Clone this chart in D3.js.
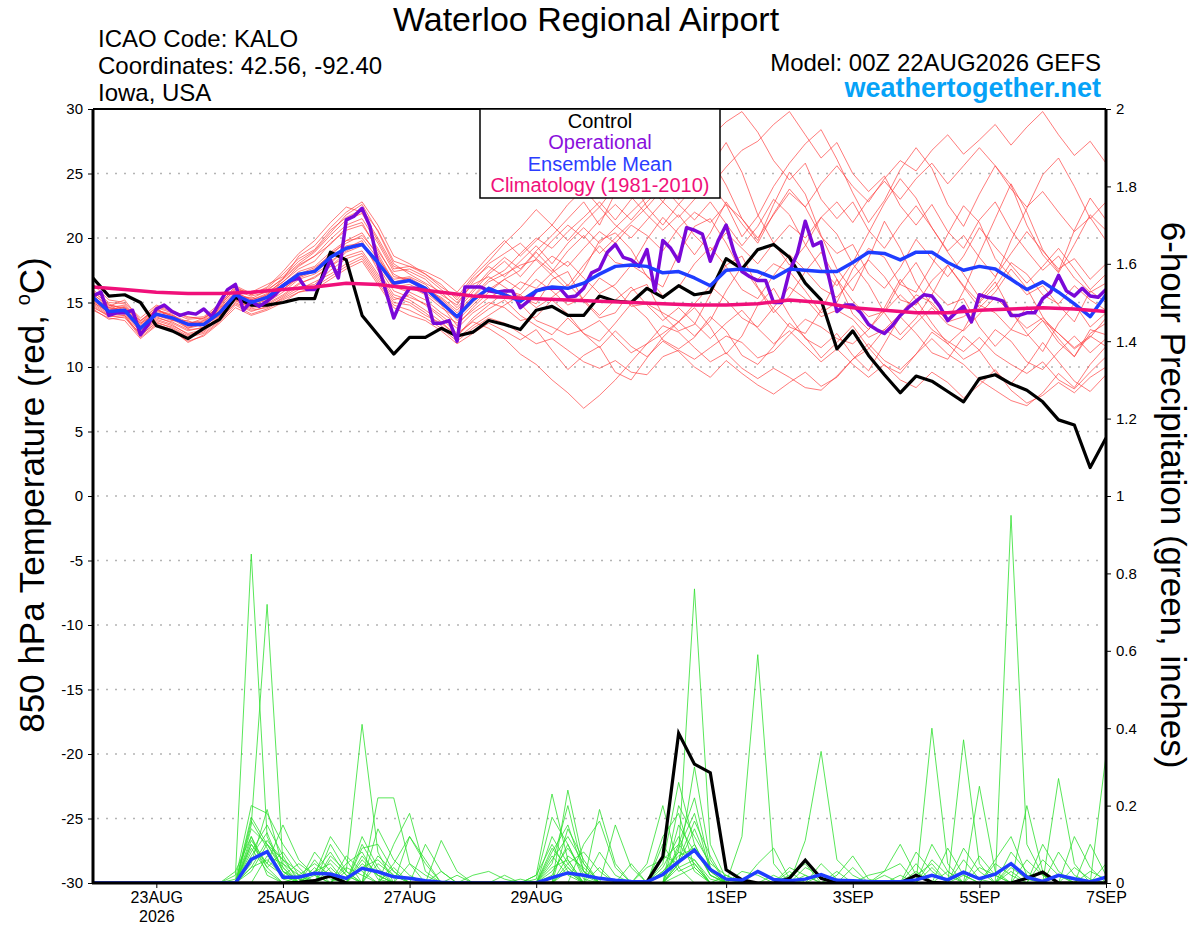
<!DOCTYPE html>
<html lang="en">
<head>
<meta charset="UTF-8">
<title>Waterloo Regional Airport - GEFS</title>
<script src="https://cdnjs.cloudflare.com/ajax/libs/d3/7.8.5/d3.min.js"></script>
<style>
body{margin:0;background:#fff;}
svg{font-family:"Liberation Sans", Arial, Helvetica, sans-serif;}
.tick text{font-size:15px;fill:#000;}
</style>
</head>
<body>
<svg id="chart" width="1200" height="927"></svg>
<script>
// run start, 6-hourly steps out to 384h
var runStart = Date.UTC(2026, 7, 22, 0);
var HOUR = 3600 * 1000;

var tempTicks = [-30, -25, -20, -15, -10, -5, 0, 5, 10, 15, 20, 25, 30];
var precipTicks = [0, 0.2, 0.4, 0.6, 0.8, 1, 1.2, 1.4, 1.6, 1.8, 2];
var dateTicks = ["2026-08-23", "2026-08-25", "2026-08-27", "2026-08-29", "2026-09-01", "2026-09-03", "2026-09-05", "2026-09-07"];
var dateLabels = ["23AUG", "25AUG", "27AUG", "29AUG", "1SEP", "3SEP", "5SEP", "7SEP"];

// 850 hPa temperature, control run (6-hourly)
var controlTemp = [16.9,15.5,15.6,15.0,13.2,12.8,12.2,13.0,13.7,15.4,
  14.8,14.8,15.0,15.3,15.3,18.9,18.3,14.0,12.5,11.0,
  12.3,12.3,13.0,12.4,12.7,13.6,13.3,12.9,14.4,14.7,
  14.0,14.0,15.5,15.1,15.0,16.1,15.4,16.3,15.6,15.8,
  18.4,17.6,19.1,19.5,18.5,16.5,15.2,11.4,12.8,10.9,
  9.4,8.0,9.3,8.9,8.1,7.3,9.1,9.4,8.7,8.2,
  7.3,5.9,5.5,2.2,4.5];

// operational run (3-hourly)
var operTemp = [15.5,15.8,14.0,14.2,14.2,14.4,12.5,13.3,
  14.5,14.8,14.3,14.0,14.2,14.1,14.5,13.9,
  15.0,16.0,16.4,14.4,15.1,14.7,15.1,15.6,
  16.3,16.7,16.9,16.0,16.0,16.9,18.3,16.9,
  21.4,21.7,22.3,20.9,18.0,15.9,13.8,15.2,
  16.1,16.1,15.8,13.4,13.4,13.6,12.0,16.2,
  16.2,16.2,15.9,15.8,15.9,15.9,14.6,15.1,
  15.9,16.1,16.1,16.1,15.4,15.5,16.1,17.3,
  17.6,18.9,19.5,18.5,18.3,17.8,19.1,15.9,
  19.8,19.2,18.2,20.8,20.6,20.3,18.2,19.8,
  21.0,18.9,17.4,17.0,16.7,16.7,15.0,15.0,
  17.4,18.8,21.3,19.4,19.7,16.9,14.3,14.8,
  14.8,14.2,13.3,12.9,12.6,13.2,14.0,14.6,
  15.1,15.6,15.5,14.7,13.6,14.2,14.7,13.5,
  15.6,15.4,15.3,15.1,14.0,14.0,14.2,14.2,
  15.3,15.8,17.1,15.9,15.5,16.1,15.5,15.4,
  16.0];

// ensemble mean (6-hourly)
var meanTemp = [15.4,14.3,14.4,13.0,14.1,13.8,13.3,13.3,14.2,15.6,
  15.0,15.4,16.3,17.2,17.4,18.5,19.2,19.5,18.1,16.5,
  16.7,16.1,15.0,13.9,15.2,16.1,15.6,15.1,15.9,16.2,
  16.1,16.5,17.2,17.8,17.9,17.8,17.3,17.4,16.9,16.3,
  17.5,17.6,17.4,16.9,17.6,17.5,17.4,17.4,18.1,18.9,
  18.8,18.3,18.9,18.9,18.1,17.5,17.8,17.6,16.8,16.0,
  16.6,15.8,14.9,13.9,15.6];

// climatology 1981-2010 (12-hourly)
var climTemp = [16.2,16.0,15.8,15.7,15.7,15.8,16.0,16.2,16.5,16.4,
  16.1,15.8,15.5,15.4,15.3,15.2,15.1,15.0,14.9,14.8,
  14.8,14.9,15.2,15.0,14.6,14.4,14.2,14.2,14.4,14.5,
  14.6,14.5,14.3];

// ensemble members, 850 hPa temperature (6-hourly)
var tM01 = [15.2,14.6,14.8,13.4,14.5,13.9,13.0,13.6,14.8,16.0,15.8,16.4,17.0, 18.2,19.0,20.4,21.8,22.6,20.5,18.0,17.2,16.5,15.8,14.6,16.0,17.4, 18.5,17.6,19.0,20.2,21.5,22.8,21.0,23.5,24.6,22.4,23.8,25.0,26.5, 27.8,29.0,29.8,28.2,26.0,24.5,25.8,23.0,21.5,22.8,20.6,19.2,21.0, 22.5,20.8,19.0,20.2,18.5,17.0,18.8,20.5,19.0,17.6,18.4,16.8,18.0];
var tM02 = [15.8,14.9,14.4,13.1,14.0,13.6,13.4,13.2,14.0,15.2,15.0,15.6,16.6, 17.8,18.6,19.5,20.8,21.2,19.0,17.2,16.6,15.9,15.3,14.2,15.5,16.8, 17.5,18.8,20.0,19.2,20.5,21.6,22.8,21.4,23.0,24.2,22.8,24.5,25.6, 24.0,25.5,26.8,27.5,28.8,29.8,28.0,26.2,27.4,25.0,23.6,24.8,22.5, 21.0,22.6,20.5,19.2,21.4,22.8,20.6,19.0,17.5,18.6,16.9,15.8,16.5];
var tM03 = [14.6,14.0,14.2,12.8,13.8,13.5,12.9,13.0,14.4,15.5,14.8,15.2,16.0, 17.0,17.5,18.8,19.6,20.2,18.8,16.6,16.9,16.2,15.0,13.6,14.8,16.0, 16.8,16.0,17.5,18.6,17.8,19.2,20.5,19.6,21.0,20.2,19.0,20.8,22.0, 21.2,22.6,21.5,20.0,21.8,23.5,22.4,24.2,25.6,24.0,22.8,24.6,26.0, 25.2,26.8,28.0,26.5,27.6,28.8,27.2,28.6,29.8,28.0,26.4,27.5,25.8];
var tM04 = [15.0,14.2,14.0,12.4,13.5,13.0,12.3,12.6,13.6,15.0,14.4,14.6,15.4, 16.2,16.4,17.5,18.4,18.8,17.0,15.2,15.6,14.8,13.8,12.6,13.5,13.0, 12.2,11.0,10.2,9.0,8.0,6.8,7.8,9.0,10.4,11.8,12.6,13.5,12.4, 13.6,15.9,17.8,16.1,14.2,15.5,17.4,18.9,16.8,14.1,12.9,14.6,16.8, 15.2,13.4,11.8,12.9,15.1,16.6,14.3,12.6,11.2,13.4,14.9,13.1,14.2];
var tM05 = [14.8,14.0,13.8,12.6,13.6,13.2,12.6,12.9,14.0,15.3,14.6,15.0,15.8, 16.8,17.2,18.0,19.2,19.8,17.5,15.6,15.2,14.4,13.5,12.4,13.6,14.5, 15.2,14.0,13.2,12.5,13.8,12.6,11.5,12.8,11.6,10.8,12.0,11.2,10.0, 9.2,10.5,9.5,8.6,7.9,8.8,9.6,8.5,9.2,10.6,11.8,10.5,9.8, 11.0,12.2,11.0,10.2,9.0,8.2,7.4,7.0,8.0,9.5,8.4,10.2,11.6];
var tM06 = [15.5,14.5,14.6,13.2,14.3,14.0,13.5,13.4,14.4,15.8,15.2,15.7,16.4, 17.4,17.8,18.9,19.8,20.0,18.4,16.8,17.0,16.4,15.2,14.0,15.4,16.6, 17.2,17.9,18.3,17.1,16.0,17.5,19.8,20.4,19.1,17.0,16.2,18.8,20.9, 21.5,19.6,17.3,16.8,18.0,17.4,15.9,14.2,15.0,17.6,19.2,18.5,16.4, 15.8,17.9,20.3,22.5,21.2,18.4,17.0,15.6,16.3,14.8,13.5,15.9,15.0];
var tM07 = [16.4,15.2,15.0,13.8,14.8,14.4,13.8,13.9,14.9,16.2,15.6,16.0,16.8, 17.9,18.6,19.9,21.0,21.5,19.6,17.4,17.6,17.0,16.0,15.0,16.4,17.0, 16.2,15.4,14.9,16.8,17.4,15.1,13.8,14.2,15.9,16.4,14.0,12.8,13.3, 15.6,17.9,18.6,16.2,14.5,13.1,12.6,14.4,16.8,15.1,13.9,14.3,16.5, 18.1,16.0,14.8,15.3,13.1,11.6,12.9,14.7,13.6,11.9,10.8,12.9,12.5];
var tM08 = [15.1,14.4,14.5,13.0,14.2,13.8,13.1,13.3,14.3,15.6,15.2,15.6,16.8, 18.6,19.4,20.8,22.0,22.8,21.0,18.6,18.0,17.2,16.2,15.4,17.0,18.2, 19.6,20.8,22.2,21.0,22.6,23.8,22.4,24.0,23.2,21.8,20.6,21.8,20.2, 19.0,20.4,19.2,18.0,19.6,21.0,20.0,21.6,22.8,21.2,23.0,24.4,23.0, 24.6,25.8,24.2,25.6,27.0,25.6,23.8,22.4,23.6,22.0,20.5,21.6,19.8];
var tM09 = [14.4,13.8,13.6,12.2,13.2,12.8,12.0,12.4,13.4,14.6,14.0,14.4,15.0, 15.8,16.0,16.8,17.6,18.2,16.4,14.6,14.0,13.6,12.8,11.8,12.6,13.4, 12.8,12.1,12.9,11.3,9.8,10.9,11.6,9.6,9.0,10.7,12.3,13.5,14.6, 13.1,11.0,12.4,14.8,16.1,14.0,12.2,11.5,12.6,10.9,9.7,11.8,13.9, 12.6,11.1,10.6,12.4,11.3,9.6,8.7,10.1,11.9,10.4,8.9,8.1,9.4];
var tM10 = [15.6,14.8,14.2,13.0,14.6,13.6,13.6,13.0,14.6,15.4,15.4,15.0,16.2, 17.0,17.6,18.4,19.4,19.6,18.0,16.2,16.4,15.8,14.8,13.2,14.6,15.8, 16.8,17.5,18.9,17.6,16.3,17.9,19.4,18.1,17.8,19.9,21.6,20.3,18.7, 20.4,22.8,21.1,19.6,21.9,23.8,22.4,20.1,18.8,19.5,17.2,16.1,17.7, 19.9,18.4,17.0,18.6,20.8,19.3,17.9,16.5,17.8,19.2,17.6,16.0,17.2];
var tM11 = [14.9,14.1,14.4,12.9,13.9,13.4,12.8,13.1,14.1,15.1,14.7,14.9,15.6, 16.5,16.9,17.8,18.9,19.4,17.8,15.9,15.4,14.9,14.0,13.0,14.2,15.0, 14.6,13.6,13.9,15.2,14.1,12.6,12.0,13.4,14.9,13.8,12.1,11.4,12.3, 13.9,12.8,10.9,10.2,11.6,13.4,12.3,10.7,11.9,13.2,11.5,10.1,9.5, 11.0,12.7,11.8,10.6,11.3,12.9,12.0,10.4,9.8,11.2,12.4,11.1,12.2];
var tM12 = [15.3,14.7,15.2,13.6,14.6,14.2,13.7,13.8,14.7,16.1,15.6,16.2,17.4, 18.8,19.8,21.2,22.4,22.0,20.0,17.8,17.4,16.8,15.6,14.8,16.6,18.0, 18.8,19.6,18.4,19.8,21.0,20.0,21.4,22.6,21.4,22.8,24.0,22.6,21.4, 22.8,21.1,19.4,20.9,23.0,21.8,19.5,17.6,16.3,18.1,20.4,22.7,24.6, 23.1,20.8,18.9,17.2,15.4,16.9,19.8,22.3,24.9,26.2,24.0,21.5,22.8];
var tM13 = [15.0,14.3,14.1,12.7,13.7,13.3,12.5,12.8,13.9,15.2,14.5,14.8,15.5, 16.4,17.0,17.8,18.6,19.0,17.2,15.4,15.0,14.2,13.2,12.2,13.2,14.0, 14.8,15.6,14.6,15.4,16.4,15.2,14.0,15.2,16.2,14.8,13.6,14.6,13.4, 12.2,13.4,14.4,13.0,11.8,12.8,11.6,10.4,11.4,10.2,9.2,10.2,9.0, 8.4,9.6,8.8,7.6,8.6,9.8,8.2,7.2,7.8,8.8,8.0,9.2,10.0];
var tM14 = [15.4,14.4,14.7,13.3,14.4,14.1,13.2,13.5,14.5,15.7,15.3,15.9,16.9, 18.0,18.9,20.2,21.4,21.9,19.8,17.6,17.8,17.2,16.4,15.2,16.8,17.8, 17.0,18.2,19.4,18.0,19.6,20.8,19.6,20.8,22.0,23.2,24.4,23.0,24.8, 26.2,24.1,21.5,19.8,22.6,25.1,23.4,20.2,17.6,15.9,18.4,21.3,19.2, 16.5,14.8,13.6,15.9,18.8,21.5,24.2,22.0,19.1,17.4,20.6,23.1,21.4];
var tM15 = [15.7,14.6,14.3,13.4,14.1,13.9,13.4,13.6,14.3,15.5,15.1,15.5,16.3, 17.2,17.7,18.6,19.8,20.4,18.6,16.4,16.2,15.6,14.6,13.8,15.0,16.2, 15.6,16.6,16.1,17.3,18.2,16.9,15.7,16.4,17.9,17.1,15.5,16.2,18.0, 19.3,17.8,16.0,15.3,17.1,18.7,17.5,16.1,15.4,16.9,18.3,17.0,15.2, 14.8,16.7,17.9,16.3,15.0,16.2,18.1,17.2,15.6,14.9,16.3,15.2,14.4];
var tM16 = [14.7,13.9,14.0,12.5,13.4,13.1,12.4,12.7,13.8,14.9,14.3,14.7,15.3, 16.0,16.6,17.2,18.0,18.6,16.8,15.0,14.8,14.0,13.4,12.4,13.8,14.8, 15.8,14.9,13.6,13.1,12.5,12.9,13.6,12.3,11.1,11.8,13.2,12.7,11.5, 10.4,11.1,9.9,9.1,9.9,9.2,8.4,8.2,9.3,10.6,11.4,12.9,12.1, 13.4,14.6,13.3,12.8,14.1,15.4,14.2,13.0,13.8,12.6,11.4,12.3,13.8];
var tM17 = [16.0,15.0,14.9,13.5,14.7,14.3,13.9,13.7,14.8,16.3,15.7,16.1,17.2, 18.4,19.1,20.6,21.6,22.2,20.6,18.2,17.8,17.4,16.8,15.8,17.2,18.6, 19.8,18.6,19.8,21.0,19.8,21.2,22.4,21.0,20.0,21.4,22.8,21.6,23.0, 24.2,22.6,20.1,21.7,24.0,25.8,27.3,28.4,26.1,23.5,21.2,22.9,25.3, 27.0,25.4,22.6,20.9,23.4,25.6,24.1,21.0,18.7,17.3,19.5,21.8,20.6];
var tM18 = [15.2,14.2,14.5,12.8,14.0,13.7,13.0,13.3,14.2,15.4,14.9,15.3,16.0, 16.9,17.4,18.2,19.0,19.6,18.2,16.2,15.8,15.2,14.2,13.4,14.4,15.4, 16.0,15.6,16.8,15.9,14.8,15.4,16.9,16.1,14.7,14.9,14.2,13.5,14.9, 16.3,15.2,13.8,13.1,14.6,16.2,15.3,13.9,14.4,13.7,12.3,12.9,14.1, 15.6,15.0,13.5,13.9,14.8,14.2,12.9,12.4,13.6,12.6,11.5,12.4,11.6];
var tM19 = [15.9,14.8,14.6,13.6,14.4,14.0,13.3,13.8,14.6,15.9,15.5,15.8,16.6, 17.6,18.2,19.6,20.6,21.0,19.2,17.0,16.8,16.0,15.4,14.4,15.8,17.2, 18.2,17.0,18.4,17.4,19.0,20.2,18.8,20.0,21.2,22.4,21.0,22.6,24.0, 25.6,27.4,25.1,21.8,19.6,17.9,19.4,21.6,20.3,18.0,16.4,14.2,12.5, 13.8,15.6,17.9,16.2,14.6,15.8,17.6,16.1,13.9,12.2,10.8,12.6,13.4];
var tM20 = [14.5,13.7,13.9,12.3,13.3,12.9,11.9,12.5,13.5,14.8,14.1,14.5,15.2, 15.8,16.2,17.0,17.8,18.4,16.6,14.8,14.4,13.8,13.0,12.0,13.0,13.8, 13.4,12.6,11.8,12.2,11.3,10.4,9.9,10.5,9.6,9.4,10.8,11.3,10.6, 11.5,12.4,11.9,10.7,11.2,12.5,13.7,13.1,12.2,11.8,12.9,14.3,15.6, 14.4,12.9,12.0,11.2,12.3,11.0,10.2,9.5,10.4,9.0,8.3,9.6,10.8];
var memberTemps = [tM01,tM02,tM03,tM04,tM05,tM06,tM07,tM08,tM09,tM10,tM11,tM12,tM13,tM14,tM15,tM16,tM17,tM18,tM19,tM20];

// 6-hour precipitation (inches); control and mean, 6-hourly
var controlPrecip = [0,0,0,0,0,0,0,0,0,0, 0,0,0,0.002,0.006,0.018,0,0,0,0,
  0,0,0,0,0,0,0,0,0,0, 0,0,0,0,0,0.003,0.068,0.387,0.307,0.285,
  0.034,0.008,0,0,0.012,0.059,0.012,0,0,0, 0,0,0.02,0.002,0,0,0,0,0,0.012,
  0.028,0,0,0,0];
var meanPrecip = [0,0,0,0,0,0,0,0,0,0, 0.061,0.081,0.015,0.015,0.025,0.023,0.012,0.038,0.029,0.016,
  0.012,0.006,0.002,0,0,0,0,0,0,0.014, 0.026,0.02,0.012,0.007,0.004,0.003,0.022,0.055,0.085,0.035,
  0.01,0.007,0.03,0.009,0.006,0.01,0.022,0.007,0.006,0.004, 0.003,0.003,0.008,0.02,0.008,0.028,0.011,0.023,0.05,0.015,
  0.004,0.02,0.011,0.003,0.015];

// ensemble member precip as [step, inches]; steps not listed are dry
var pM01 = [[9,.02],[10,.85],[11,.12],[12,.03],[13,.01],[17,.05],[18,.02],[29,.05],[30,.2],[31,.03],[37,.1],[38,.05],[45,.02],[53,.4],[54,.05],[58,.03]];
var pM02 = [[10,.15],[11,.72],[12,.05],[14,.03],[15,.08],[16,.02],[19,.05],[20,.12],[21,.06],[30,.03],[36,.05],[37,.26],[38,.1],[39,.02],[42,.05],[43,.09],[44,.01],[55,.37],[56,.05],[61,.02]];
var pM03 = [[9,.01],[10,.2],[11,.18],[12,.1],[13,.04],[16,.03],[17,.41],[18,.08],[28,.02],[29,.23],[30,.06],[36,.02],[37,.08],[38,.76],[39,.1],[40,.01],[52,.02],[53,.05],[58,.95],[59,.1],[60,.02]];
var pM04 = [[10,.1],[11,.05],[12,.15],[13,.06],[14,.02],[15,.12],[16,.06],[18,.22],[19,.22],[20,.05],[31,.1],[32,.16],[33,.04],[41,.12],[42,.59],[43,.05],[49,.02],[50,.03],[51,.1],[52,.02],[64,.33]];
var pM05 = [[10,.17],[11,.1],[12,.06],[13,.03],[15,.04],[17,.12],[18,.04],[22,.11],[23,.03],[30,.24],[31,.05],[35,.05],[36,.2],[37,.04],[45,.11],[46,.34],[47,.06],[48,.02],[61,.27],[62,.05]];
var pM06 = [[10,.05],[11,.19],[12,.04],[14,.08],[15,.03],[19,.1],[20,.18],[21,.03],[26,.02],[29,.08],[30,.15],[31,.03],[37,.05],[38,.3],[39,.06],[47,.02],[48,.07],[49,.01],[56,.25],[57,.03],[63,.1],[64,.02]];
var pM07 = [[9,.03],[10,.12],[11,.04],[13,.02],[14,.05],[15,.02],[17,.06],[18,.02],[24,.02],[25,.03],[26,.01],[32,.19],[33,.05],[36,.12],[37,.18],[38,.04],[52,.08],[53,.03],[59,.2],[60,.03]];
var pM08 = [[10,.08],[11,.15],[12,.07],[16,.07],[17,.03],[20,.12],[21,.05],[29,.12],[30,.05],[33,.15],[34,.04],[37,.15],[38,.08],[39,.03],[44,.02],[45,.05],[54,.09],[55,.02],[60,.06],[61,.02]];
var pM09 = [[10,.04],[11,.06],[12,.02],[15,.1],[16,.03],[18,.05],[19,.02],[23,.02],[28,.01],[29,.17],[30,.1],[31,.02],[36,.07],[37,.05],[38,.14],[39,.04],[50,.03],[51,.05],[57,.06],[58,.12],[59,.02]];
var pM10 = [[10,.16],[11,.09],[12,.02],[13,.05],[14,.02],[17,.09],[18,.1],[19,.03],[27,.01],[30,.07],[31,.04],[37,.2],[38,.12],[39,.05],[40,.02],[46,.05],[47,.01],[55,.09],[56,.03],[62,.12],[63,.04]];
var pM11 = [[10,.03],[11,.1],[12,.04],[14,.06],[15,.01],[18,.14],[19,.06],[20,.02],[29,.06],[30,.12],[31,.05],[35,.04],[36,.06],[37,.1],[38,.22],[39,.04],[42,.03],[43,.01],[53,.1],[54,.03],[58,.05],[59,.02]];
var pM12 = [[10,.07],[11,.13],[12,.03],[17,.07],[18,.02],[21,.1],[22,.03],[30,.04],[32,.08],[33,.02],[37,.06],[38,.16],[39,.07],[48,.04],[56,.04],[57,.02],[64,.05]];
var pM13 = [[10,.1],[11,.04],[12,.08],[13,.02],[15,.06],[16,.02],[19,.04],[29,.03],[30,.09],[31,.03],[34,.05],[36,.04],[37,.12],[38,.03],[44,.04],[45,.02],[51,.02],[53,.06],[54,.02],[60,.1],[61,.03]];
var pM14 = [[10,.06],[11,.08],[12,.01],[14,.04],[17,.1],[18,.03],[28,.02],[29,.1],[30,.03],[36,.03],[37,.08],[38,.06],[41,.03],[42,.02],[52,.05],[55,.06],[56,.01],[61,.08],[62,.02]];
var pM15 = [[10,.14],[11,.1],[12,.03],[15,.07],[16,.03],[18,.07],[19,.03],[30,.14],[31,.06],[37,.05],[38,.1],[39,.02],[47,.03],[58,.04],[59,.01]];
var pM16 = [[11,.07],[12,.05],[13,.02],[16,.04],[17,.02],[20,.05],[21,.02],[29,.04],[30,.06],[32,.04],[36,.03],[37,.07],[38,.09],[39,.02],[45,.04],[46,.02],[54,.03],[57,.05],[58,.02]];
var pM17 = [[10,.09],[11,.03],[14,.03],[15,.05],[29,.07],[30,.02],[37,.04],[38,.06],[39,.01],[43,.02],[50,.02],[56,.07],[57,.02],[63,.03],[64,.01]];
var pM18 = [[10,.11],[11,.05],[12,.02],[17,.04],[18,.06],[19,.02],[30,.05],[31,.08],[32,.03],[36,.1],[37,.03],[38,.05],[53,.04],[59,.06],[60,.02]];
var pM19 = [[10,.04],[11,.11],[12,.06],[13,.01],[15,.02],[22,.03],[29,.02],[30,.1],[31,.01],[37,.09],[38,.18],[39,.03],[46,.02],[52,.03],[62,.04],[63,.01]];
var pM20 = [[10,.12],[11,.02],[14,.02],[16,.05],[17,.08],[18,.01],[29,.09],[30,.04],[37,.02],[38,.04],[40,.02],[44,.03],[55,.02],[58,.08],[59,.03]];
var memberPrecips = [pM01,pM02,pM03,pM04,pM05,pM06,pM07,pM08,pM09,pM10,pM11,pM12,pM13,pM14,pM15,pM16,pM17,pM18,pM19,pM20];

var svg = d3.select("#chart");
// plot frame edges (named so they don't clash with window.top)
var plotL = 93, plotR = 1106, plotT = 109, plotB = 883;

var x = d3.scaleUtc()
  .domain([new Date(runStart), new Date(runStart + 384 * HOUR)])
  .range([plotL, plotR]);
var yT = d3.scaleLinear().domain([-30, 30]).range([plotB, plotT]);
var yP = d3.scaleLinear().domain([0, 2]).range([plotB, plotT]);

function lineFor(stepHours, scale) {
  return d3.line()
    .x(function(d, i) { return x(new Date(runStart + i * stepHours * HOUR)); })
    .y(function(d) { return scale(d); });
}
function fillSteps(pairs) {
  var a = controlPrecip.map(function() { return 0; });
  pairs.forEach(function(p) { a[p[0]] = p[1]; });
  return a;
}

svg.append("defs").append("clipPath").attr("id", "plot")
  .append("rect").attr("x", plotL).attr("y", plotT)
  .attr("width", plotR - plotL).attr("height", plotB - plotT);

// dotted grid every 5 degrees
svg.append("g").selectAll("line")
  .data(tempTicks.filter(function(t) { return t > -30 && t < 30; }))
  .enter().append("line")
  .attr("x1", plotL + 4).attr("x2", plotR - 2)
  .attr("y1", function(d) { return yT(d); })
  .attr("y2", function(d) { return yT(d); })
  .attr("stroke", "#b4b4b4").attr("stroke-width", 1.6)
  .attr("stroke-dasharray", "2,7");

var plot = svg.append("g").attr("clip-path", "url(#plot)");

// precip members (green)
plot.append("g").selectAll("path").data(memberPrecips).enter().append("path")
  .attr("d", function(d) { return lineFor(6, yP)(fillSteps(d)); })
  .attr("fill", "none").attr("stroke", "#2ee02e").attr("stroke-width", 0.8);

// temperature members (red)
plot.append("g").selectAll("path").data(memberTemps).enter().append("path")
  .attr("d", lineFor(6, yT))
  .attr("fill", "none").attr("stroke", "#ff3b3b").attr("stroke-width", 0.8)
  .attr("stroke-opacity", 0.85);

plot.append("path").attr("d", lineFor(6, yP)(controlPrecip))
  .attr("fill", "none").attr("stroke", "#000").attr("stroke-width", 3.2);
plot.append("path").attr("d", lineFor(6, yP)(meanPrecip))
  .attr("fill", "none").attr("stroke", "#1f3dff").attr("stroke-width", 3.5);

plot.append("path").attr("d", lineFor(6, yT)(controlTemp))
  .attr("fill", "none").attr("stroke", "#000").attr("stroke-width", 3.2)
  .attr("stroke-linejoin", "round");
plot.append("path").attr("d", lineFor(3, yT)(operTemp))
  .attr("fill", "none").attr("stroke", "#7a08d8").attr("stroke-width", 3.5)
  .attr("stroke-linejoin", "round");
plot.append("path").attr("d", lineFor(6, yT)(meanTemp))
  .attr("fill", "none").attr("stroke", "#1f3dff").attr("stroke-width", 3.5)
  .attr("stroke-linejoin", "round");
plot.append("path").attr("d", lineFor(12, yT)(climTemp))
  .attr("fill", "none").attr("stroke", "#f0107a").attr("stroke-width", 3.5)
  .attr("stroke-linejoin", "round");

// axes
var axL = svg.append("g").attr("transform", "translate(" + plotL + ",0)")
  .call(d3.axisLeft(yT).tickValues(tempTicks).tickSize(5).tickPadding(5)
    .tickFormat(function(d) { return String(d); }));
var axR = svg.append("g").attr("transform", "translate(" + plotR + ",0)")
  .call(d3.axisRight(yP).tickValues(precipTicks).tickSize(5).tickPadding(5)
    .tickFormat(d3.format("~g")));
var axB = svg.append("g").attr("transform", "translate(0," + plotB + ")")
  .call(d3.axisBottom(x).tickValues(dateTicks.map(function(s) { return new Date(s + "T00:00:00Z"); }))
    .tickSize(5).tickPadding(4)
    .tickFormat(function(d, i) { return dateLabels[i]; }));
[axL, axR, axB].forEach(function(a) {
  a.select(".domain").remove();
  a.selectAll(".tick line").attr("stroke", "#000");
  a.selectAll(".tick text").style("font-family", "Liberation Sans, Arial, sans-serif");
});
axB.selectAll(".tick text").style("font-size", "16px");
axB.select(".tick").append("text").attr("y", 39).attr("fill", "#000")
  .attr("text-anchor", "middle").style("font-size", "16px").text("2026");

// frame
svg.append("line").attr("x1", plotL).attr("x2", plotR).attr("y1", plotT).attr("y2", plotT)
  .attr("stroke", "#000").attr("stroke-width", 2);
svg.append("line").attr("x1", plotL - 1).attr("x2", plotR + 1).attr("y1", plotB).attr("y2", plotB)
  .attr("stroke", "#000").attr("stroke-width", 3);
svg.append("line").attr("x1", plotL).attr("x2", plotL).attr("y1", plotT).attr("y2", plotB + 1)
  .attr("stroke", "#000").attr("stroke-width", 3);
svg.append("line").attr("x1", plotR).attr("x2", plotR).attr("y1", plotT).attr("y2", plotB + 1)
  .attr("stroke", "#000").attr("stroke-width", 3);

// legend
var leg = svg.append("g");
leg.append("rect").attr("x", 480).attr("y", plotT).attr("width", 240).attr("height", 89)
  .attr("fill", "#fff").attr("stroke", "#000").attr("stroke-width", 1.5);
var legItems = [["Control", "#000"], ["Operational", "#8a10dc"], ["Ensemble Mean", "#2b3cff"], ["Climatology (1981-2010)", "#f0107a"]];
leg.selectAll("text").data(legItems).enter().append("text")
  .attr("x", 600).attr("y", function(d, i) { return 128 + i * 21.3; })
  .attr("text-anchor", "middle").attr("fill", function(d) { return d[1]; })
  .style("font-size", "20px").text(function(d) { return d[0]; });

// header texts
function txt(s, xx, yy, size, anchor, color, weight) {
  return svg.append("text").attr("x", xx).attr("y", yy).attr("text-anchor", anchor)
    .attr("fill", color).style("font-size", size + "px").style("font-weight", weight || "normal").text(s);
}
txt("Waterloo Regional Airport", 586, 31, 34, "middle", "#000");
txt("ICAO Code: KALO", 98, 47, 24, "start", "#000");
txt("Coordinates: 42.56, -92.40", 98, 74, 24, "start", "#000");
txt("Iowa, USA", 98, 101, 24, "start", "#000");
txt("Model: 00Z 22AUG2026 GEFS", 1101, 71, 24, "end", "#000");
txt("weathertogether.net", 1101, 97, 27, "end", "#06a2f7", "bold");

// axis titles
var lt = svg.append("text").attr("transform", "translate(44,495) rotate(-90)")
  .attr("text-anchor", "middle").style("font-size", "35px").attr("fill", "#000");
lt.append("tspan").text("850 hPa Temperature (red, ");
lt.append("tspan").text("o").style("font-size", "20px").attr("dy", -14);
lt.append("tspan").text("C)").attr("dy", 14);
svg.append("text").attr("transform", "translate(1161,495) rotate(90)")
  .attr("text-anchor", "middle").style("font-size", "35px").attr("fill", "#000")
  .text("6-hour Precipitation (green, inches)");
</script>
</body>
</html>
